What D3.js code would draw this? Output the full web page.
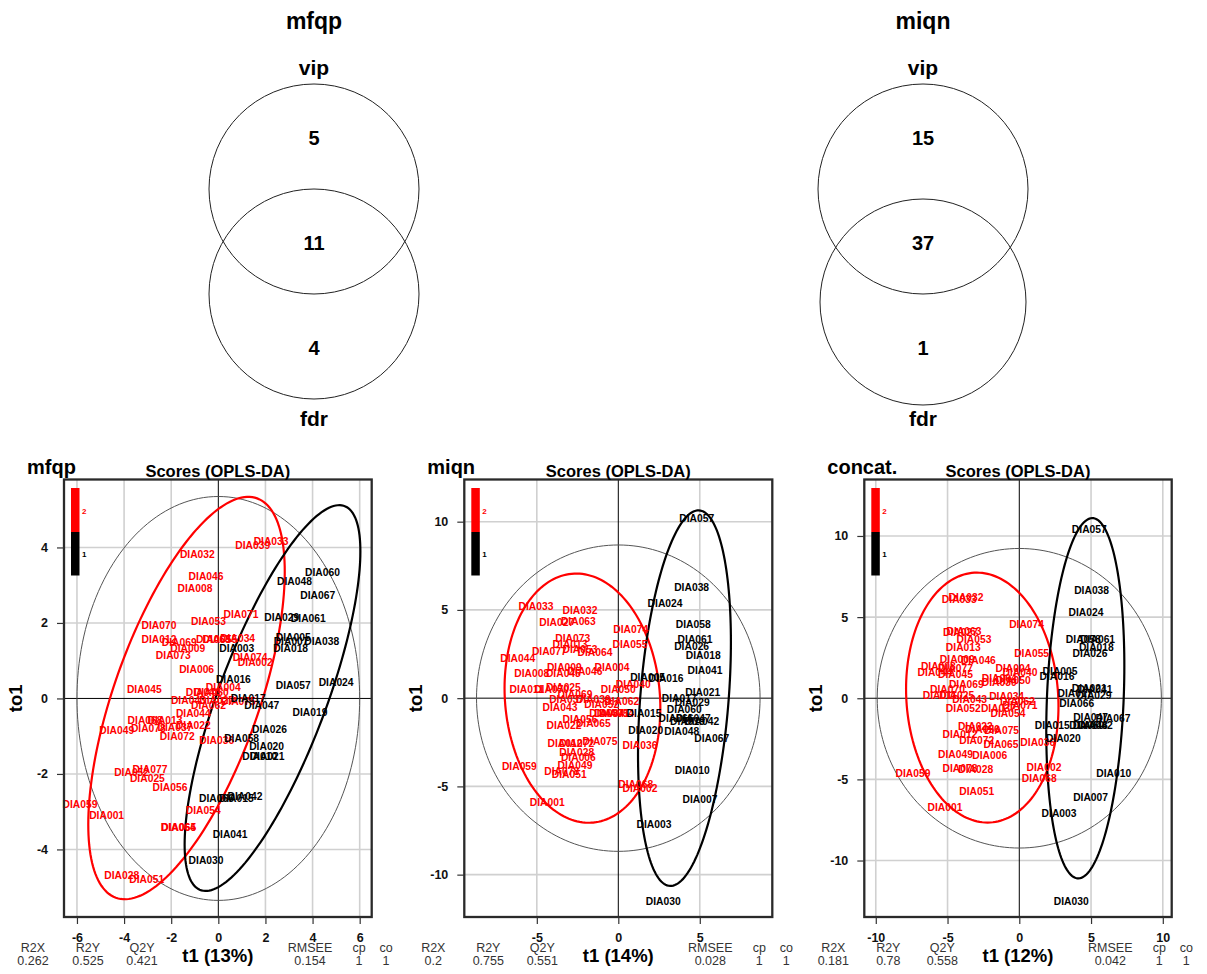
<!DOCTYPE html>
<html><head><meta charset="utf-8">
<script src="https://cdn.jsdelivr.net/npm/d3@7"></script>
<style>
body{margin:0;background:#fff}
text{font-family:"Liberation Sans",Arial,sans-serif}
</style>
</head><body>
<svg id="chart" width="1207" height="974"></svg>
<script>
// ---------------- DATA ----------------
const vennTitles = ["mfqp", "miqn"];
const vennSetNames = ["vip", "fdr"];
const vennCounts = [[5, 11, 4], [15, 37, 1]];

const panelTitles = ["mfqp", "miqn", "concat."];
const t1Percent = ["13%", "14%", "12%"];
const statNames = ["R2X", "R2Y", "Q2Y", "RMSEE", "cp", "co"];
const mfqpStats = ["0.262", "0.525", "0.421", "0.154", "1", "1"];
const miqnStats = ["0.2", "0.755", "0.551", "0.028", "1", "1"];
const concatStats = ["0.181", "0.78", "0.558", "0.042", "1", "1"];

const mfqpXTicks = [-6, -4, -2, 0, 2, 4, 6];
const mfqpYTicks = [-4, -2, 0, 2, 4];
const miqnXTicks = [-5, 0, 5];
const miqnYTicks = [-10, -5, 0, 5, 10];
const concatXTicks = [-10, -5, 0, 5, 10];
const concatYTicks = [-10, -5, 0, 5, 10];

const mfqpXDomain = [-6.55, 6.51], mfqpYDomain = [-5.79, 5.80];
const miqnXDomain = [-9.45, 9.45], miqnYDomain = [-12.40, 12.39];
const concatXDomain = [-10.80, 10.62], concatYDomain = [-13.48, 13.48];

// ellipses: [cx, cy, halfWidthX, halfHeightY, correlation]
const mfqpHotelling = [0, 0, 6.0, 5.35, 0];
const mfqpEllipse2 = [-1.35, 0.01, 4.17, 5.33, 0.628];
const mfqpEllipse1 = [2.30, 0.01, 3.73, 5.11, 0.76];
const miqnHotelling = [0, 0, 8.7, 8.68, 0];
const miqnEllipse2 = [-2.2, 0, 4.78, 7.06, -0.08];
const miqnEllipse1 = [4.06, 0, 2.85, 10.64, 0.3];
const concatHotelling = [0, 0, 9.9, 9.23, 0];
const concatEllipse2 = [-2.58, 0.04, 5.31, 7.7, -0.07];
const concatEllipse1 = [4.6, 0, 2.72, 11.1, 0.18];

// scores [label, t1, to1]
const mfqpGroup2 = [
 ["DIA033",2.24,4.17],["DIA039",1.46,4.04],["DIA032",-0.89,3.80],["DIA046",-0.52,3.23],
 ["DIA008",-0.99,2.90],["DIA071",0.96,2.22],["DIA053",-0.42,2.05],["DIA070",-2.52,1.94],
 ["DIA012",-2.52,1.56],["DIA069",-1.66,1.47],["DIA063",-0.21,1.57],["DIA055",0.07,1.57],
 ["DIA034",0.82,1.59],["DIA009",-1.30,1.31],["DIA073",-1.91,1.13],["DIA074",1.35,1.09],
 ["DIA002",1.57,0.95],["DIA006",-0.92,0.77],["DIA045",-3.14,0.23],["DIA004",0.21,0.29],
 ["DIA040",-0.64,0.15],["DIA050",-0.30,0.15],["DIA043",-1.27,-0.05],["DIA027",-0.07,-0.05],
 ["DIA075",0.85,-0.08],["DIA062",-0.42,-0.18],["DIA044",-1.06,-0.40],["DIA068",-3.11,-0.59],
 ["DIA013",-2.26,-0.59],["DIA049",-4.31,-0.86],["DIA078",-2.97,-0.80],["DIA037",-1.84,-0.77],
 ["DIA022",-1.06,-0.73],["DIA072",-1.74,-1.02],["DIA036",-0.07,-1.12],["DIA077",-2.90,-1.88],
 ["DIA052",-3.68,-1.97],["DIA025",-3.01,-2.12],["DIA056",-2.05,-2.37],["DIA059",-5.87,-2.81],
 ["DIA001",-4.74,-3.09],["DIA054",-0.64,-2.96],["DIA064",-1.70,-3.43],["DIA065",-1.68,-3.43],
 ["DIA028",-4.10,-4.68],["DIA051",-3.04,-4.79]
];
const mfqpGroup1 = [
 ["DIA060",4.42,3.34],["DIA048",3.23,3.09],["DIA067",4.22,2.72],["DIA061",3.82,2.12],
 ["DIA029",2.69,2.14],["DIA005",3.18,1.62],["DIA007",3.09,1.52],["DIA038",4.39,1.50],
 ["DIA003",0.78,1.31],["DIA018",3.07,1.32],["DIA016",0.64,0.51],["DIA057",3.18,0.35],
 ["DIA024",5.00,0.41],["DIA017",1.27,0.00],["DIA047",1.84,-0.20],["DIA019",3.89,-0.37],
 ["DIA026",2.17,-0.82],["DIA058",0.99,-1.06],["DIA020",2.05,-1.26],["DIA010",1.76,-1.55],
 ["DIA021",2.07,-1.55],["DIA066",-0.08,-2.65],["DIA015",0.76,-2.65],["DIA042",1.13,-2.59],
 ["DIA041",0.50,-3.61],["DIA030",-0.52,-4.29]
];
const miqnGroup2 = [
 ["DIA033",-5.05,5.20],["DIA032",-2.35,4.95],["DIA027",-3.78,4.26],["DIA063",-2.45,4.33],
 ["DIA074",0.76,3.88],["DIA073",-2.80,3.39],["DIA013",-2.96,3.05],["DIA055",0.72,3.03],
 ["DIA077",-4.23,2.66],["DIA053",-2.35,2.75],["DIA064",-1.43,2.60],["DIA044",-6.17,2.23],
 ["DIA009",-3.31,1.75],["DIA004",-0.39,1.75],["DIA046",-2.04,1.53],["DIA008",-5.31,1.38],
 ["DIA045",-3.37,1.38],["DIA040",0.92,0.76],["DIA050",0.00,0.47],["DIA011",-5.62,0.47],
 ["DIA070",-4.09,0.47],["DIA025",-3.37,0.59],["DIA069",-2.66,0.19],["DIA037",-3.17,-0.08],
 ["DIA039",-1.53,-0.08],["DIA062",0.21,-0.19],["DIA052",-1.02,-0.37],["DIA043",-3.58,-0.51],
 ["DIA034",-0.71,-0.88],["DIA071",-0.40,-0.88],["DIA054",-0.10,-0.88],["DIA056",-2.35,-1.20],
 ["DIA065",-1.53,-1.41],["DIA022",-3.33,-1.54],["DIA075",-1.12,-2.45],["DIA012",-3.27,-2.58],
 ["DIA072",-2.55,-2.58],["DIA036",1.33,-2.71],["DIA028",-2.55,-3.09],["DIA006",-2.45,-3.37],
 ["DIA059",-6.07,-3.86],["DIA049",-2.66,-3.84],["DIA078",-3.47,-4.14],["DIA051",-3.01,-4.31],
 ["DIA068",1.07,-4.89],["DIA002",1.33,-5.12],["DIA001",-4.36,-5.93]
];
const miqnGroup1 = [
 ["DIA057",4.81,10.19],["DIA038",4.50,6.27],["DIA024",2.87,5.37],["DIA058",4.60,4.15],
 ["DIA061",4.71,3.32],["DIA026",4.50,2.94],["DIA018",5.21,2.41],["DIA041",5.32,1.56],
 ["DIA005",1.80,1.19],["DIA016",2.93,1.13],["DIA021",5.18,0.34],["DIA017",3.74,-0.03],
 ["DIA029",4.54,-0.26],["DIA060",4.05,-0.66],["DIA015",1.58,-0.85],["DIA066",3.54,-1.17],
 ["DIA047",4.60,-1.17],["DIA019",4.25,-1.30],["DIA042",5.12,-1.30],["DIA020",1.68,-1.86],
 ["DIA048",3.89,-1.88],["DIA067",5.73,-2.26],["DIA010",4.54,-4.08],["DIA007",5.01,-5.74],
 ["DIA003",2.19,-7.15],["DIA030",2.76,-11.54]
];
const concatGroup2 = [
 ["DIA032",-3.71,6.20],["DIA033",-4.18,6.06],["DIA074",0.51,4.56],["DIA027",-4.10,4.05],
 ["DIA063",-3.85,4.12],["DIA053",-3.16,3.60],["DIA013",-3.90,3.12],["DIA055",0.86,2.77],
 ["DIA009",-4.32,2.38],["DIA046",-2.85,2.30],["DIA008",-5.64,1.98],["DIA077",-4.45,1.85],
 ["DIA044",-5.87,1.56],["DIA045",-4.45,1.44],["DIA004",-0.44,1.81],["DIA040",0.05,1.56],
 ["DIA064",-1.40,1.22],["DIA050",-0.42,1.10],["DIA039",-1.40,0.96],["DIA069",-3.69,0.86],
 ["DIA070",-5.00,0.55],["DIA011",-5.53,0.15],["DIA025",-4.36,0.18],["DIA043",-3.46,-0.10],
 ["DIA034",-0.88,0.10],["DIA062",-0.12,-0.17],["DIA071",0.05,-0.45],["DIA052",-3.90,-0.62],
 ["DIA037",-1.46,-0.66],["DIA054",-0.79,-0.97],["DIA022",-3.06,-1.74],["DIA056",-2.57,-1.95],
 ["DIA075",-1.23,-2.00],["DIA012",-4.13,-2.24],["DIA072",-2.97,-2.63],["DIA065",-1.27,-2.83],
 ["DIA036",1.29,-2.73],["DIA049",-4.45,-3.45],["DIA006",-2.06,-3.54],["DIA078",-4.13,-4.31],
 ["DIA028",-3.03,-4.42],["DIA002",1.72,-4.27],["DIA068",1.39,-4.93],["DIA059",-7.41,-4.64],
 ["DIA051",-2.97,-5.75],["DIA001",-5.18,-6.74]
];
const concatGroup1 = [
 ["DIA057",4.88,10.37],["DIA038",5.04,6.67],["DIA024",4.65,5.28],["DIA058",4.46,3.65],
 ["DIA061",5.46,3.65],["DIA018",5.37,3.12],["DIA026",4.93,2.73],["DIA005",2.84,1.62],
 ["DIA016",2.63,1.36],["DIA021",4.88,0.60],["DIA041",5.28,0.57],["DIA017",3.88,0.31],
 ["DIA029",5.21,0.16],["DIA066",4.00,-0.35],["DIA047",4.97,-1.19],["DIA067",6.53,-1.23],
 ["DIA015",2.30,-1.65],["DIA060",4.70,-1.65],["DIA048",4.95,-1.65],["DIA042",5.30,-1.65],
 ["DIA020",3.07,-2.51],["DIA010",6.58,-4.62],["DIA007",4.97,-6.10],["DIA003",2.77,-7.11],
 ["DIA030",3.62,-12.55]
];

// ---------------- DRAW ----------------
const svg = d3.select("#chart");
const FONT = '"Liberation Sans",Arial,sans-serif';

// Venn diagrams
const vennLayout = [
  {cx: 314, c1y: 189, r1: 105, c2y: 294, r2: 105},
  {cx: 923, c1y: 189, r1: 105, c2y: 302, r2: 103}
];
vennTitles.forEach((title, i) => {
  const L = vennLayout[i];
  const g = svg.append("g");
  g.append("text").attr("x", L.cx).attr("y", 21).attr("text-anchor", "middle")
    .attr("dominant-baseline", "central").attr("font-weight", "bold").attr("font-size", 23).text(title);
  g.append("text").attr("x", L.cx).attr("y", 67).attr("text-anchor", "middle")
    .attr("dominant-baseline", "central").attr("font-weight", "bold").attr("font-size", 21).text(vennSetNames[0]);
  g.append("text").attr("x", L.cx).attr("y", 418).attr("text-anchor", "middle")
    .attr("dominant-baseline", "central").attr("font-weight", "bold").attr("font-size", 21).text(vennSetNames[1]);
  g.append("circle").attr("cx", L.cx).attr("cy", L.c1y).attr("r", L.r1)
    .attr("fill", "none").attr("stroke", "#222").attr("stroke-width", 1);
  g.append("circle").attr("cx", L.cx).attr("cy", L.c2y).attr("r", L.r2)
    .attr("fill", "none").attr("stroke", "#222").attr("stroke-width", 1);
  const ny = [138, 243, 348];
  vennCounts[i].forEach((c, k) => {
    g.append("text").attr("x", L.cx).attr("y", ny[k]).attr("text-anchor", "middle")
      .attr("dominant-baseline", "central").attr("font-weight", "bold").attr("font-size", 20).text(c);
  });
});

// Score panels
const panels = [
  {box: [64, 479.5, 371.7, 917], xd: mfqpXDomain, yd: mfqpYDomain, xt: mfqpXTicks, yt: mfqpYTicks,
   hot: mfqpHotelling, e2: mfqpEllipse2, e1: mfqpEllipse1, g2: mfqpGroup2, g1: mfqpGroup1, stats: mfqpStats},
  {box: [464.3, 479.5, 772.3, 917], xd: miqnXDomain, yd: miqnYDomain, xt: miqnXTicks, yt: miqnYTicks,
   hot: miqnHotelling, e2: miqnEllipse2, e1: miqnEllipse1, g2: miqnGroup2, g1: miqnGroup1, stats: miqnStats},
  {box: [864.3, 479.5, 1171.7, 917], xd: concatXDomain, yd: concatYDomain, xt: concatXTicks, yt: concatYTicks,
   hot: concatHotelling, e2: concatEllipse2, e1: concatEllipse1, g2: concatGroup2, g1: concatGroup1, stats: concatStats}
];
const statOffsets = [-31, 24, 78, 246, 295, 322];

function ellipsePoints(p) {
  const [cx, cy, wx, wy, r] = p;
  const s = Math.sqrt(1 - r * r);
  return d3.range(0, 181).map(i => {
    const t = i / 180 * 2 * Math.PI, u = Math.cos(t), v = Math.sin(t);
    return [cx + wx * u, cy + wy * (r * u + s * v)];
  });
}

panels.forEach((P, i) => {
  const [x0, y0, x1, y1] = P.box;
  const x = d3.scaleLinear().domain(P.xd).range([x0, x1]);
  const y = d3.scaleLinear().domain(P.yd).range([y1, y0]);
  const g = svg.append("g");
  const clipId = "clip" + i;
  g.append("clipPath").attr("id", clipId).append("rect")
    .attr("x", x0).attr("y", y0).attr("width", x1 - x0).attr("height", y1 - y0);
  const inner = g.append("g").attr("clip-path", `url(#${clipId})`);

  // grid
  inner.selectAll(".gx").data(P.xt.filter(v => v !== 0)).join("line")
    .attr("x1", d => x(d)).attr("x2", d => x(d)).attr("y1", y0).attr("y2", y1)
    .attr("stroke", "#d0d0d0").attr("stroke-width", 1.6);
  inner.selectAll(".gy").data(P.yt.filter(v => v !== 0)).join("line")
    .attr("y1", d => y(d)).attr("y2", d => y(d)).attr("x1", x0).attr("x2", x1)
    .attr("stroke", "#d0d0d0").attr("stroke-width", 1.6);
  // zero lines
  inner.append("line").attr("x1", x(0)).attr("x2", x(0)).attr("y1", y0).attr("y2", y1)
    .attr("stroke", "#000").attr("stroke-width", 1);
  inner.append("line").attr("y1", y(0)).attr("y2", y(0)).attr("x1", x0).attr("x2", x1)
    .attr("stroke", "#000").attr("stroke-width", 1);

  const line = d3.line().x(d => x(d[0])).y(d => y(d[1])).curve(d3.curveLinearClosed);
  inner.append("path").attr("d", line(ellipsePoints(P.hot)))
    .attr("fill", "none").attr("stroke", "#555").attr("stroke-width", 1);
  inner.append("path").attr("d", line(ellipsePoints(P.e2)))
    .attr("fill", "none").attr("stroke", "#ff0000").attr("stroke-width", 2.2);
  inner.append("path").attr("d", line(ellipsePoints(P.e1)))
    .attr("fill", "none").attr("stroke", "#000").attr("stroke-width", 2.2);

  // labels
  const lab = (data, col) => g.append("g").selectAll("text").data(data).join("text")
    .attr("x", d => x(d[1])).attr("y", d => y(d[2]))
    .attr("text-anchor", "middle").attr("dominant-baseline", "central")
    .attr("font-weight", "bold").attr("font-size", 10.3).attr("fill", col).text(d => d[0]);
  lab(P.g2, "#ff0000");
  lab(P.g1, "#000");

  // legend bar
  g.append("rect").attr("x", x0 + 7).attr("y", y0 + 8.5).attr("width", 8.5).attr("height", 44).attr("fill", "#ff0000");
  g.append("rect").attr("x", x0 + 7).attr("y", y0 + 52.5).attr("width", 8.5).attr("height", 43.5).attr("fill", "#000");
  g.append("text").attr("x", x0 + 18).attr("y", y0 + 31.5).attr("dominant-baseline", "central")
    .attr("font-size", 8).attr("font-weight", "bold").attr("fill", "#ff0000").text("2");
  g.append("text").attr("x", x0 + 18).attr("y", y0 + 75).attr("dominant-baseline", "central")
    .attr("font-size", 8).attr("font-weight", "bold").attr("fill", "#000").text("1");

  // border
  g.append("rect").attr("x", x0).attr("y", y0).attr("width", x1 - x0).attr("height", y1 - y0)
    .attr("fill", "none").attr("stroke", "#2a2a2a").attr("stroke-width", 2.3);

  // axes
  const ax = g.append("g").attr("transform", `translate(0,${y1})`)
    .call(d3.axisBottom(x).tickValues(P.xt).tickSize(7).tickPadding(9).tickFormat(d3.format("d")));
  const ay = g.append("g").attr("transform", `translate(${x0},0)`)
    .call(d3.axisLeft(y).tickValues(P.yt).tickSize(7).tickPadding(9).tickFormat(d3.format("d")));
  [ax, ay].forEach(a => {
    a.select(".domain").remove();
    a.selectAll("line").attr("stroke", "#333").attr("stroke-width", 1.2);
    a.selectAll("text").attr("font-family", FONT).attr("font-weight", "bold")
      .attr("font-size", 12.5).attr("fill", "#111");
  });
  ax.selectAll("text").text(d => d < 0 ? "-" + Math.abs(d) : d);
  ay.selectAll("text").text(d => d < 0 ? "-" + Math.abs(d) : d);

  // titles
  g.append("text").attr("x", x0 - 37).attr("y", 467).attr("dominant-baseline", "central")
    .attr("font-weight", "bold").attr("font-size", 20).text(panelTitles[i]);
  g.append("text").attr("x", (x0 + x1) / 2).attr("y", 471).attr("text-anchor", "middle")
    .attr("dominant-baseline", "central").attr("font-weight", "bold").attr("font-size", 16.5)
    .text("Scores (OPLS-DA)");
  g.append("text").attr("x", (x0 + x1) / 2).attr("y", 955).attr("text-anchor", "middle")
    .attr("dominant-baseline", "central").attr("font-weight", "bold").attr("font-size", 18.5)
    .text("t1 (" + t1Percent[i] + ")");
  g.append("text").attr("transform", `translate(${x0 - 49},${(y0 + y1) / 2}) rotate(-90)`)
    .attr("text-anchor", "middle").attr("dominant-baseline", "central")
    .attr("font-weight", "bold").attr("font-size", 18.5).text("to1");

  // stats
  statNames.forEach((s, k) => {
    g.append("text").attr("x", x0 + statOffsets[k]).attr("y", 948.3).attr("text-anchor", "middle")
      .attr("dominant-baseline", "central").attr("font-size", 12.5).attr("fill", "#333").text(s);
    g.append("text").attr("x", x0 + statOffsets[k]).attr("y", 960.7).attr("text-anchor", "middle")
      .attr("dominant-baseline", "central").attr("font-size", 12.5).attr("fill", "#333").text(P.stats[k]);
  });
});
</script>
</body></html>
